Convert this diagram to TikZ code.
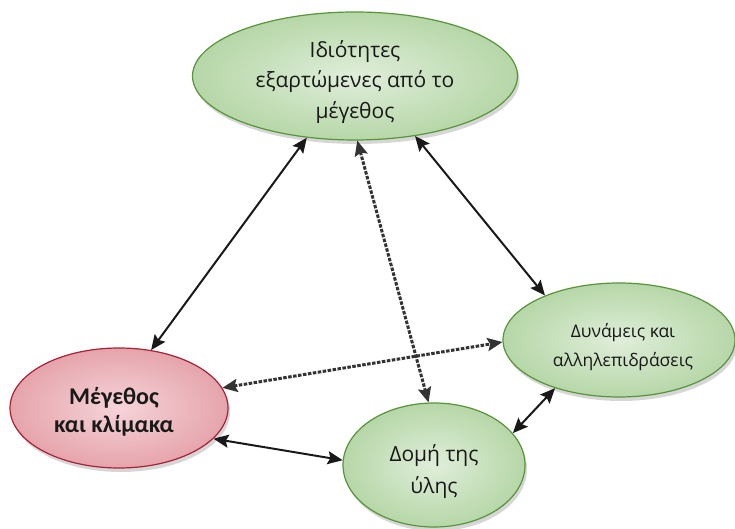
\documentclass[tikz,border=0pt]{standalone}
\usepackage{fontspec}
\setmainfont{Open Sans}
\newfontfamily\redfont{Carlito}
\usetikzlibrary{shapes.geometric,arrows.meta,shadows}
\begin{document}
\begin{tikzpicture}[x=1pt,y=1pt,
  bubble/.style={ellipse, inner sep=0pt, line width=1.2pt,
     drop shadow={opacity=0.32, shadow xshift=2pt, shadow yshift=-4pt}},
  greenbub/.style={bubble, draw={rgb,255:red,88;green,148;blue,58},
     inner color={rgb,255:red,224;green,238;blue,218},
     outer color={rgb,255:red,182;green,215;blue,168}},
  redbub/.style={bubble, draw={rgb,255:red,168;green,34;blue,52},
     inner color={rgb,255:red,245;green,212;blue,216},
     outer color={rgb,255:red,230;green,164;blue,172}},
  label/.style={align=center, inner sep=0pt, text=black!90},
  link/.style={line width=2pt, black!90,
     {Stealth[length=15pt,width=13pt,inset=2.5pt]}-{Stealth[length=15pt,width=13pt,inset=2.5pt]}},
  dlink/.style={link, line width=3pt, black!80, dash pattern=on 3.5pt off 1.5pt}
]
\useasboundingbox (0,0) rectangle (735,529);
\node[greenbub, minimum width=325pt, minimum height=128pt] (T) at (355,453) {};
\node[redbub, minimum width=218pt, minimum height=120pt] (R) at (119,121) {};
\node[greenbub, minimum width=182pt, minimum height=124pt] (D) at (434,64) {};
\node[greenbub, minimum width=232pt, minimum height=114pt] (Y) at (619,189) {};
\node[label, font=\fontsize{21}{30.5}\selectfont] (Tt) at ([yshift=-6pt]T.center)
  {Ιδιότητες\\ εξαρτώμενες από το\\ μέγεθος};
\node[label, font=\redfont\bfseries\fontsize{24}{28}\selectfont] (Rt) at ([xshift=-5pt,yshift=-4pt]R.center)
  {Μέγεθος\\ και κλίμακα};
\node[label, font=\fontsize{21}{32}\selectfont] (Dt) at ([yshift=-7pt]D.center)
  {Δομή της\\ ύλης};
\node[label, font=\fontsize{17.5}{29}\selectfont] (Yt) at ([xshift=4pt,yshift=-7pt]Y.center)
  {Δυνάμεις και\\ αλληλεπιδράσεις};
\draw[link] (T.232) -- (R.61);
\draw[link] (T.315) -- (Y.149);
\draw[dlink] (T.272) -- (D.95);
\draw[dlink] (R.11) -- (Y.181);
\draw[link] (R.342) -- (D.177);
\draw[link] (D.22) -- (Y.217);
\end{tikzpicture}
\end{document}
